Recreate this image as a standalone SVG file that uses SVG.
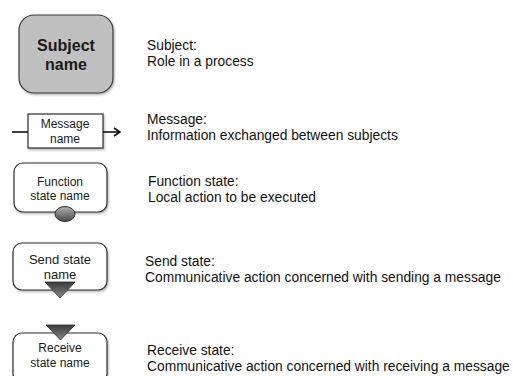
<svg xmlns="http://www.w3.org/2000/svg" width="513" height="376" viewBox="0 0 513 376">
  <defs>
    <style>
      .box { fill: #ffffff; stroke: #2e2e2e; stroke-width: 1.2; }
      .subj { fill: #c0c0c0; stroke: #3a3a3a; stroke-width: 1.2; }
      .lbl { font-family: "Liberation Sans", Arial, sans-serif; font-size: 12px; fill: #1a1a1a; text-anchor: middle; }
      .desc { font-family: "Liberation Sans", Arial, sans-serif; font-size: 13.8px; fill: #111111; }
      .conn { stroke: #111111; stroke-width: 1.6; fill: none; }
    </style>
    <linearGradient id="tri" x1="0" y1="0" x2="0" y2="1">
      <stop offset="0" stop-color="#3a3a3a"/>
      <stop offset="1" stop-color="#8a8a8a"/>
    </linearGradient>
    <linearGradient id="oval" x1="0" y1="0" x2="0" y2="1">
      <stop offset="0" stop-color="#b0b0b0"/>
      <stop offset="1" stop-color="#4a4a4a"/>
    </linearGradient>
    <filter id="shadow" x="-10%" y="-10%" width="125%" height="130%">
      <feDropShadow dx="1" dy="1.5" stdDeviation="1.2" flood-color="#000" flood-opacity="0.3"/>
    </filter>
    <marker id="open" markerWidth="10" markerHeight="10" refX="8" refY="5" orient="auto" markerUnits="userSpaceOnUse">
      <path d="M2,1 L8,5 L2,9" fill="none" stroke="#111" stroke-width="1.6"/>
    </marker>
  </defs>

  <rect width="513" height="376" fill="#ffffff"/>

  <!-- subject -->
  <g id="subject">
    <rect class="subj" x="19" y="15" width="94" height="78" rx="15" filter="url(#shadow)"/>
    <text class="lbl" x="66" y="51" style="font-size:16px;font-weight:bold">Subject</text>
    <text class="lbl" x="66" y="70" style="font-size:16px;font-weight:bold">name</text>
  </g>

  <!-- message -->
  <g id="message">
    <rect class="box" x="28" y="114" width="75" height="34" filter="url(#shadow)"/>
    <text class="lbl" x="65" y="128">Message</text>
    <text class="lbl" x="65" y="143">name</text>
  </g>

  <!-- function state -->
  <g id="function-state">
    <rect class="box" x="14" y="163" width="93" height="49" rx="9" filter="url(#shadow)"/>
    <text class="lbl" x="60" y="186">Function</text>
    <text class="lbl" x="60" y="200">state name</text>
    <ellipse cx="65" cy="214" rx="10" ry="7.5" fill="url(#oval)" stroke="#2e2e2e" stroke-width="1"/>
  </g>

  <!-- send state -->
  <g id="send-state">
    <rect class="box" x="13" y="243" width="94" height="47" rx="9" filter="url(#shadow)"/>
    <text class="lbl" x="60" y="264" style="font-size:13px">Send state</text>
    <text class="lbl" x="60" y="279" style="font-size:13px">name</text>
    <polygon points="45,282 75,282 60,298" fill="url(#tri)" stroke="#2a2a2a" stroke-width="0.8"/>
  </g>

  <!-- receive state -->
  <g id="receive-state">
    <rect class="box" x="13" y="333" width="94" height="50" rx="9" filter="url(#shadow)"/>
    <polygon points="46,325 75,325 60.5,340" fill="url(#tri)" stroke="#2a2a2a" stroke-width="0.8"/>
    <text class="lbl" x="60" y="352">Receive</text>
    <text class="lbl" x="60" y="367">state name</text>
  </g>

  <!-- connectors -->
  <g id="connectors">
    <line class="conn" x1="12" y1="132" x2="28" y2="132"/>
    <line class="conn" x1="103" y1="132" x2="120" y2="132" marker-end="url(#open)"/>
  </g>

  <!-- descriptions -->
  <g id="legend-text">
    <text class="desc" x="147" y="50">Subject:</text>
    <text class="desc" x="147" y="66">Role in a process</text>
    <text class="desc" x="147" y="124">Message:</text>
    <text class="desc" x="147" y="140">Information exchanged between subjects</text>
    <text class="desc" x="148" y="186">Function state:</text>
    <text class="desc" x="148" y="202">Local action to be executed</text>
    <text class="desc" x="145" y="266">Send state:</text>
    <text class="desc" x="145" y="282">Communicative action concerned with sending a message</text>
    <text class="desc" x="147" y="355">Receive state:</text>
    <text class="desc" x="147" y="371">Communicative action concerned with receiving a message</text>
  </g>
</svg>
